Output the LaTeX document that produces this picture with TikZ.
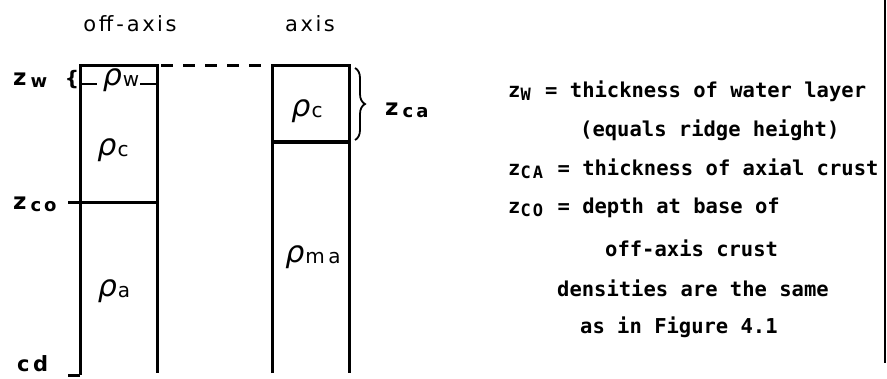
\documentclass[tikz,border=0pt]{standalone}
\usepackage{fontspec}
\newfontfamily\mono{DejaVu Sans Mono}
\newfontfamily\lab{DejaVu Sans}[LetterSpace=12]
\newfontfamily\labrho{DejaVu Sans}
\usetikzlibrary{decorations.pathreplacing}
\newcommand{\msub}[1]{\makebox[12.34pt][l]{\raisebox{-3pt}{\fontsize{17}{17}\selectfont #1}}}
\newcommand{\zsub}[1]{\raisebox{-2pt}{\fontsize{18}{18}\selectfont\hspace{4pt}#1}}
\newcommand{\rhosub}[1]{{\labrho\itshape ρ}\kern1pt\raisebox{-1pt}{\lab\fontsize{20}{20}\selectfont #1}}
\tikzset{
  col/.style={line width=3pt},
  thin col/.style={line width=2.4pt},
  hdr/.style={font=\lab\fontsize{21}{21}\selectfont, inner sep=0pt},
  zlab/.style={font=\lab\bfseries\fontsize{23}{23}\selectfont, inner sep=0pt, anchor=west},
  rholab/.style={font=\lab\fontsize{30}{30}\selectfont, inner sep=0pt},
  note/.style={font=\mono\bfseries\fontsize{20.5}{20.5}\selectfont, anchor=west, inner sep=0pt},
  dashline/.style={line width=3pt, dash pattern=on 12pt off 10pt},
}
\begin{document}
\begin{tikzpicture}[x=1pt,y=-1pt]
\useasboundingbox (0,0) rectangle (887,378);
% coordinates
\coordinate (LTL) at (80,65);
\coordinate (LTR) at (157,65);
\coordinate (LBL) at (80,375);
\coordinate (LBR) at (157,373);
\coordinate (RTL) at (272,65);
\coordinate (RTR) at (349,65);
\coordinate (RBL) at (272,373);
\coordinate (RBR) at (349,373);
\coordinate (DS) at (161,65);
\coordinate (DE) at (268,65);
% left column
\draw[col] (LBL) -- (LTL) -- (LTR) -- (LBR);
\draw[col] (68,375) -- (LBL);
\draw[col] (68,202) -- (157,202);
\draw[thin col] (80,84) -- (97,84);
\draw[thin col] (140,84) -- (157,84);
% right column
\draw[col] (RBL) -- (RTL) -- (RTR) -- (RBR);
\draw[line width=3.4pt] (272,142) -- (349,142);
% dashed water surface
\draw[dashline] (DS) -- (DE);
% brace
\draw[line width=1.8pt, decorate, decoration={brace, amplitude=10pt}] (355,68) -- (355,140);
% headers
\node[hdr] (h1) at (130,24) {off\kern3pt-\kern3pt axis};
\node[hdr] (h2) at (310,24) {axis};
% z labels
\node[zlab] (zw) at (13,80) {z\zsub{w}};
\node[font=\lab\bfseries\fontsize{20}{20}\selectfont, inner sep=0pt] (br) at (72,80) {\{};
\node[zlab] (zco) at (13,204) {z\zsub{c\,o}};
\node[zlab, font=\lab\bfseries\fontsize{21}{21}\selectfont] (cd) at (17,364) {c\,d};
\node[zlab] (zca) at (385,110) {z\zsub{c\,a}};
% rho labels
\node[rholab] (rw) at (121,80) {\rhosub{w}};
\node[rholab] (rc1) at (113,150) {\rhosub{c}};
\node[rholab] (ra) at (114,291) {\rhosub{a}};
\node[rholab] (rc2) at (307,111) {\rhosub{c}};
\node[rholab] (rma) at (313,257) {\rhosub{m\,a}};
% notes
\node[note] (n1) at (508,91) {z\msub{W} = thickness of water layer};
\node[note] (n2) at (580,130) {(equals ridge height)};
\node[note] (n3) at (508,169) {z\msub{C}\msub{A} = thickness of axial crust};
\node[note] (n4) at (508,208) {z\msub{C}\msub{O} = depth at base of};
\node[note] (n5) at (605,248) {off-axis crust};
\node[note] (n6) at (557,288) {densities are the same};
\node[note] (n7) at (580,327) {as in Figure 4.1};
% right border
\draw[line width=2.2pt] (885,0) -- (885,363);
\end{tikzpicture}
\end{document}
